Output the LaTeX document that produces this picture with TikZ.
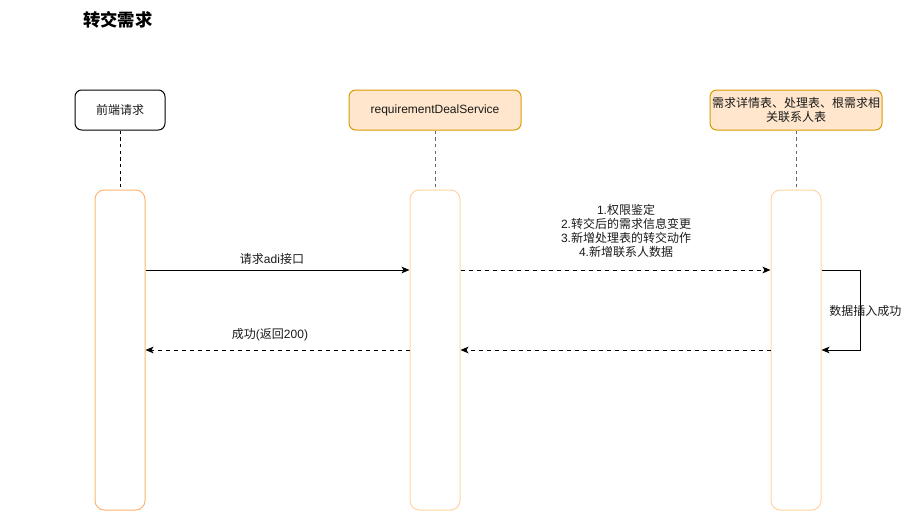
\documentclass[tikz,border=0pt]{standalone}
\usepackage{fontspec}
\setmainfont{Liberation Sans}
\newfontfamily\cjk{Noto Sans CJK SC}
\newcommand{\zh}[1]{{\cjk #1}}
\usetikzlibrary{arrows.meta}
\definecolor{boxfill}{HTML}{FFE6CC}
\definecolor{boxline}{HTML}{D79B00}
\definecolor{actA}{HTML}{FFB570}
\definecolor{actB}{HTML}{FFD4A3}
\definecolor{txt}{HTML}{1A1A1A}
\tikzset{
  head/.style={draw, rounded corners=5pt, minimum height=30pt, inner sep=1pt, align=center, font=\fontsize{9}{10.5}\selectfont, text=txt},
  headw/.style={head, draw=black, fill=white, line width=0.75pt},
  heado/.style={head, draw=boxline, fill=boxfill, line width=0.75pt},
  actbar/.style={draw, rounded corners=7pt, fill=white, line width=0.75pt, minimum width=37.5pt, minimum height=240pt, inner sep=0pt},
  life/.style={dashed, line width=0.75pt, dash pattern=on 2.5pt off 2.5pt},
  msg/.style={line width=0.75pt, -{Stealth[length=6pt,width=5pt,inset=1.5pt]}},
  lbl/.style={font=\fontsize{9}{10.6}\selectfont, text=txt, align=center, inner sep=0pt}
}
\begin{document}
\begin{tikzpicture}[x=0.75pt,y=-0.75pt]
\useasboundingbox (0,0) rectangle (911,511);
\node[font=\cjk\bfseries\fontsize{13}{15}\selectfont, anchor=west, inner sep=0pt] (title) at (83,20) {转交需求};
% headers
\node[headw, minimum width=67.5pt] (h1) at (120,110) {\zh{前端请求}};
\node[heado, minimum width=129pt] (h2) at (435,110) {requirementDealService};
\node[heado, minimum width=129pt] (h3) at (796,110) {\zh{需求详情表、处理表、根需求相}\\\zh{关联系人表}};
% activation bars
\node[actbar, draw=actA] (a1) at (120,350) {};
\node[actbar, draw=actB] (a2) at (435,350) {};
\node[actbar, draw=actB] (a3) at (796,350) {};
% lifelines
\draw[life, black] (h1.south) -- (a1.north);
\draw[life, black!60] (h2.south) -- (a2.north);
\draw[life, black!60] (h3.south) -- (a3.north);
% coordinates
\coordinate (p1) at (a1.east |- 0,270);
\coordinate (p2) at (a2.west |- 0,270);
\coordinate (p3) at (a2.east |- 0,270);
\coordinate (p4) at (a3.west |- 0,270);
\coordinate (p5) at (a3.east |- 0,270);
\coordinate (p6) at (a3.east |- 0,350);
\coordinate (q1) at (a1.east |- 0,350);
\coordinate (q2) at (a2.west |- 0,350);
\coordinate (q3) at (a2.east |- 0,350);
\coordinate (q4) at (a3.west |- 0,350);
% messages
\draw[msg] (p1) -- (p2);
\node[lbl] (l1) at (272,259) {\zh{请求}adi\zh{接口}};
\draw[msg, dashed, dash pattern=on 3pt off 3pt] (p3) -- (p4);
\node[lbl] (l2) at (626,231) {1.\zh{权限鉴定}\\2.\zh{转交后的需求信息变更}\\3.\zh{新增处理表的转交动作}\\4.\zh{新增联系人数据}};
\draw[msg] (p5) -- ++(39,0) |- (p6);
\node[lbl, anchor=west] (l3) at (829,311) {\zh{数据插入成功}};
\draw[msg, dashed, dash pattern=on 3pt off 3pt] (q4) -- (q3);
\draw[msg, dashed, dash pattern=on 3pt off 3pt] (q2) -- (q1);
\node[lbl] (l4) at (270,335) {\zh{成功}(\zh{返回}200)};
\end{tikzpicture}
\end{document}
